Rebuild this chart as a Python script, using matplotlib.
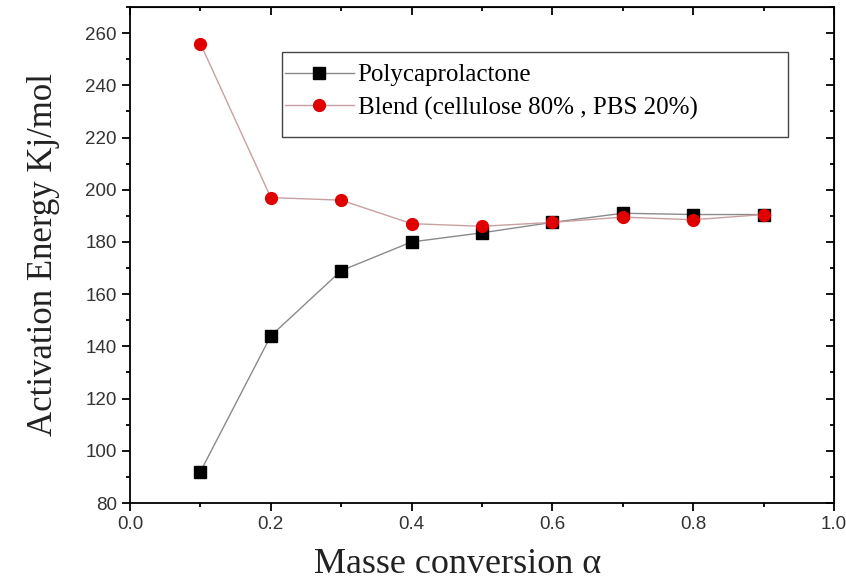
import numpy as np
import matplotlib.pyplot as plt
from matplotlib.ticker import MultipleLocator
from matplotlib.patches import Rectangle

# conversion degree and activation energies (kJ/mol)
alpha = [0.1, 0.2, 0.3, 0.4, 0.5, 0.6, 0.7, 0.8, 0.9]
ea_pcl = [92, 144, 169, 180, 183.5, 187.5, 191, 190.5, 190.5]
ea_blend = [256, 197, 196, 187, 186, 187.5, 189.5, 188.5, 190.5]

W, H = 846, 579
fig = plt.figure(figsize=(W / 100, H / 100), dpi=100)
ax = fig.add_axes([130/W, 1 - 503/H, (834 - 130)/W, (503 - 7)/H])

ax.plot(alpha, ea_pcl, color='#8a8a8a', lw=1, marker='s', ms=8,
        mfc='black', mec='black', label='Polycaprolactone')
ax.plot(alpha, ea_blend, color='#c9a0a0', lw=1, marker='o', ms=8.5,
        mfc='#e00000', mec='#e00000', label='Blend (cellulose 80% , PBS 20%)')

ax.set_xlim(0, 1.0)
ax.set_ylim(80, 270)
ax.xaxis.set_major_locator(MultipleLocator(0.2))
ax.xaxis.set_minor_locator(MultipleLocator(0.1))
ax.yaxis.set_major_locator(MultipleLocator(20))
ax.yaxis.set_minor_locator(MultipleLocator(10))

ax.tick_params(which='both', direction='out', top=False, right=False, width=1.3)
ax.tick_params(which='major', length=6)
ax.tick_params(which='minor', length=3)
ax.tick_params(labelsize=13.5, labelcolor='#333333')
for lbl in ax.get_xticklabels() + ax.get_yticklabels():
    lbl.set_family('Liberation Sans')

# inward ticks on the top and right spines
axt = ax.secondary_xaxis('top')
axt.xaxis.set_major_locator(MultipleLocator(0.2))
axt.xaxis.set_minor_locator(MultipleLocator(0.1))
axt.tick_params(which='both', direction='in', labeltop=False, width=1.3)
axt.tick_params(which='major', length=6)
axt.tick_params(which='minor', length=3)
axr = ax.secondary_yaxis('right')
axr.yaxis.set_major_locator(MultipleLocator(20))
axr.yaxis.set_minor_locator(MultipleLocator(10))
axr.tick_params(which='both', direction='in', labelright=False, width=1.3)
axr.tick_params(which='major', length=6)
axr.tick_params(which='minor', length=3)

for s in ax.spines.values():
    s.set_linewidth(1.3)

ax.set_xlabel('Masse conversion α', family='Liberation Serif', fontsize=26, color='#222222')
ax.xaxis.set_label_coords(0.465, -0.09)
ax.set_ylabel('Activation Energy Kj/mol', family='Liberation Serif', fontsize=25, color='#222222')
ax.yaxis.set_label_coords(-0.1, 0.5)

leg = ax.legend(loc='upper left', bbox_to_anchor=(280/W, 1 - 59/H), bbox_transform=fig.transFigure,
                frameon=False, borderaxespad=0, borderpad=0.2,
                prop={'family': 'Liberation Serif', 'size': 18}, handlelength=2.75,
                labelspacing=0.4, handletextpad=0.15)

# legend box, wider than the entries
fig.patches.append(Rectangle((282/W, 1 - 137/H), (788 - 282)/W, (137 - 52)/H,
                             transform=fig.transFigure, fill=False,
                             edgecolor='#444444', lw=1.0, zorder=5))

fig.savefig('out.png', dpi=100)
